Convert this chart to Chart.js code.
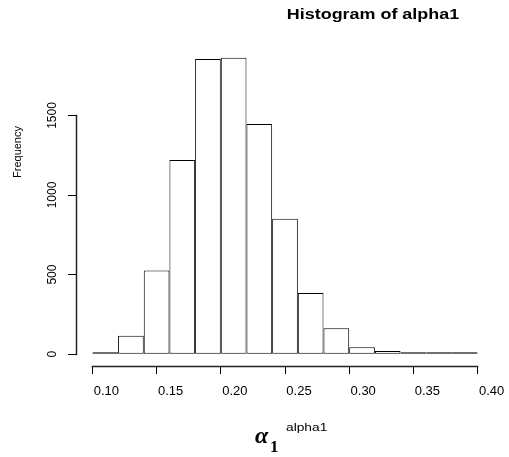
<!DOCTYPE html>
<html>
<head>
<meta charset="utf-8">
<script src="https://cdn.jsdelivr.net/npm/chart.js@4"></script>
<style>
  html, body { margin: 0; padding: 0; background: #fff; }
  canvas { display: block; }
</style>
</head>
<body>
<canvas id="hist" width="509" height="457"></canvas>
<script>
// histogram bins (centres of 0.02 wide bins) and their counts
const binCenters = [0.11, 0.13, 0.15, 0.17, 0.19, 0.21, 0.23, 0.25, 0.27, 0.29, 0.31, 0.33, 0.35, 0.37, 0.39];
const counts = [8, 115, 526, 1220, 1855, 1862, 1446, 851, 384, 163, 44, 19, 4, 3, 2];
const xTicks = [0.10, 0.15, 0.20, 0.25, 0.30, 0.35, 0.40];
const yTicks = [0, 500, 1000, 1500];

const chartTitle = 'Histogram of alpha1';
const yLabel = 'Frequency';
const xLabelSup = 'alpha1';

// R-style axes: a line only from the first to the last tick
const rAxes = {
  id: 'rAxes',
  afterDraw(chart) {
    const { ctx, chartArea, scales: { x, y } } = chart;
    ctx.save();
    ctx.strokeStyle = '#222';
    ctx.lineWidth = 1.5;
    ctx.lineCap = 'square';

    const by = Math.round(chartArea.bottom) + 0.5;
    ctx.beginPath();
    ctx.moveTo(x.getPixelForValue(xTicks[0]), by);
    ctx.lineTo(x.getPixelForValue(xTicks[xTicks.length - 1]), by);
    ctx.stroke();

    const lx = Math.round(chartArea.left) - 0.5;
    ctx.beginPath();
    ctx.moveTo(lx, Math.round(y.getPixelForValue(yTicks[0])) + 0.5);
    ctx.lineTo(lx, Math.round(y.getPixelForValue(yTicks[yTicks.length - 1])) + 0.5);
    ctx.stroke();

    ctx.fillStyle = '#000';
    // main title
    ctx.save();
    ctx.font = 'bold 14px "Liberation Sans", Arial, sans-serif';
    ctx.textAlign = 'center';
    ctx.textBaseline = 'alphabetic';
    ctx.translate(373, 19);
    ctx.scale(1.28, 1);
    ctx.fillText(chartTitle, 0, 0);
    ctx.restore();

    // y axis label
    ctx.save();
    ctx.font = '11px "Liberation Sans", Arial, sans-serif';
    ctx.textAlign = 'center';
    ctx.textBaseline = 'middle';
    ctx.translate(18, 152);
    ctx.rotate(-Math.PI / 2);
    ctx.fillText(yLabel, 0, 0);
    ctx.restore();

    // x axis label: alpha[1] plus "alpha1"
    ctx.save();
    ctx.textAlign = 'left';
    ctx.textBaseline = 'alphabetic';
    ctx.font = 'italic bold 24px "Liberation Serif", "DejaVu Serif", serif';
    ctx.fillText('\u03B1', 255, 443);
    ctx.font = 'bold 17px "Liberation Serif", "DejaVu Serif", serif';
    ctx.fillText('1', 270, 452);
    ctx.font = '11px "Liberation Sans", Arial, sans-serif';
    ctx.translate(286, 431);
    ctx.scale(1.25, 1);
    ctx.fillText(xLabelSup, 0, 0);
    ctx.restore();

    ctx.restore();
  }
};

const ctx = document.getElementById('hist').getContext('2d');
new Chart(ctx, {
  type: 'bar',
  data: {
    datasets: [{
      label: 'alpha1',
      data: binCenters.map((c, i) => ({ x: c, y: counts[i] })),
      backgroundColor: '#fff',
      borderColor: '#000',
      borderWidth: 1,
      borderSkipped: false,
      barPercentage: 1,
      categoryPercentage: 1,
      inflateAmount: 0,
      minBarLength: 2
    }]
  },
  options: {
    responsive: false,
    animation: false,
    layout: { padding: { left: 37, right: 16, top: 46, bottom: 51 } },
    plugins: {
      legend: { display: false },
      tooltip: { enabled: false },
      title: { display: false }
    },
    scales: {
      x: {
        type: 'linear',
        min: 0.088,
        max: 0.412,
        offset: false,
        afterBuildTicks: (scale) => { scale.ticks = xTicks.map((v) => ({ value: v })); },
        afterFit: (scale) => { scale.height = 40; },
        border: { display: false },
        grid: { drawOnChartArea: false, drawTicks: true, tickLength: 8, color: '#000', offset: false },
        ticks: {
          autoSkip: false,
          maxRotation: 0,
          labelOffset: 14,
          padding: 10,
          color: '#000',
          font: { family: '"Liberation Sans", Arial, sans-serif', size: 13 },
          callback: (v) => Number(v).toFixed(2)
        }
      },
      y: {
        type: 'linear',
        min: -74.5,
        max: 1936.5,
        afterBuildTicks: (scale) => { scale.ticks = yTicks.map((v) => ({ value: v })); },
        afterFit: (scale) => { scale.width = 40; },
        border: { display: false },
        grid: { drawOnChartArea: false, drawTicks: true, tickLength: 9, color: '#000' },
        ticks: {
          minRotation: 90,
          maxRotation: 90,
          crossAlign: 'center',
          padding: 2,
          color: '#000',
          font: { family: '"Liberation Sans", Arial, sans-serif', size: 12 },
          callback: (v) => String(v)
        }
      }
    }
  },
  plugins: [rAxes]
});
</script>
</body>
</html>
